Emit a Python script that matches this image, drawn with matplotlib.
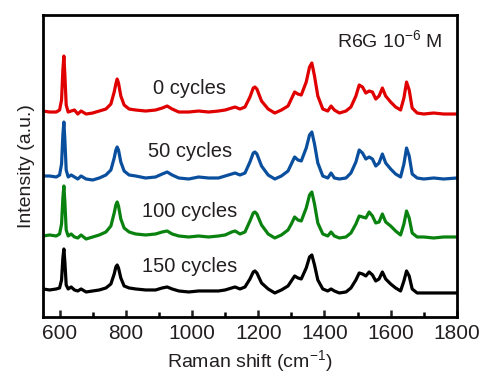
import matplotlib
matplotlib.use("Agg")
import matplotlib.pyplot as plt
from matplotlib.ticker import MultipleLocator
import numpy as np

plt.rcParams['font.family'] = ['Liberation Sans', 'DejaVu Sans']
plt.rcParams['mathtext.fontset'] = 'custom'
plt.rcParams['mathtext.rm'] = 'Liberation Sans'
plt.rcParams['mathtext.it'] = 'Liberation Sans:italic'

# Raman shift (cm^-1)
shift = [550, 570, 590, 600, 606, 610, 613, 616, 620, 626, 635, 645, 655, 665, 680, 700,
         720, 740, 755, 765, 770, 774, 778, 785, 795, 810, 830, 860, 890, 910, 925, 940,
         960, 990, 1020, 1050, 1080, 1100, 1120, 1130, 1145, 1160, 1175, 1185, 1190, 1196,
         1210, 1230, 1250, 1270, 1290, 1300, 1310, 1320, 1330, 1345, 1355, 1362, 1370, 1380,
         1395, 1410, 1420, 1430, 1445, 1465, 1480, 1495, 1505, 1515, 1525, 1535, 1545, 1555,
         1565, 1575, 1585, 1600, 1615, 1630, 1640, 1648, 1656, 1665, 1680, 1700, 1730, 1760, 1800]

cycles_0 = [3, 2, 2, 4, 14, 44, 58, 39, 9, 2, 3, 4, 0, 3, 0, 1,
            3, 5, 10, 22, 30, 35, 31, 18, 9, 5, 4, 3, 4, 6, 8, 5,
            2, 2, 3, 2, 3, 4, 6, 7, 5, 7, 17, 26, 27, 25,
            13, 5, 1, 4, 8, 15, 22, 20, 19, 32, 47, 51, 38, 18,
            5, 3, 8, 4, 1, 3, 7, 18, 29, 27, 21, 23, 22, 15,
            18, 26, 18, 12, 7, 4, 16, 32, 24, 6, 1, 0, 1, 0, 0]

cycles_50 = [4, 4, 3, 5, 16, 45, 58, 40, 10, 3, 5, 3, 1, 4, 1, 0,
             2, 5, 10, 22, 30, 33, 30, 18, 9, 5, 4, 2, 3, 6, 8, 5,
             2, 1, 3, 2, 2, 4, 6, 7, 5, 7, 18, 27, 28, 26,
             14, 5, 1, 4, 9, 16, 23, 20, 19, 32, 45, 48, 36, 17,
             4, 2, 7, 2, 1, 2, 7, 18, 30, 27, 21, 23, 21, 14,
             17, 26, 17, 11, 6, 3, 16, 32, 24, 6, 2, 1, 2, 1, 2]

cycles_100 = [2, 3, 2, 4, 14, 40, 52, 36, 8, 2, 4, 1, 0, 3, -1, 1,
              3, 6, 12, 25, 33, 36, 32, 19, 10, 6, 4, 3, 4, 6, 7, 4,
              2, 1, 2, 1, 2, 3, 6, 7, 4, 6, 17, 25, 26, 24,
              13, 4, 0, 3, 8, 14, 21, 18, 17, 30, 43, 46, 34, 15,
              4, 2, 6, 2, 0, 1, 5, 14, 22, 21, 20, 26, 22, 15,
              16, 24, 16, 12, 7, 3, 14, 27, 20, 5, 1, 1, 0, 1, 1]

cycles_150 = [3, 2, 3, 4, 12, 34, 43, 30, 7, 3, 5, 2, 1, 3, 0, 1,
              2, 4, 8, 18, 25, 27, 24, 14, 6, 4, 3, 2, 2, 4, 5, 3,
              1, 0, 1, 1, 1, 2, 4, 5, 3, 5, 13, 20, 21, 19,
              9, 3, -1, 2, 6, 11, 16, 14, 13, 24, 35, 37, 27, 12,
              3, 1, 3, 1, -1, 0, 4, 12, 19, 18, 16, 20, 17, 11,
              13, 20, 13, 8, 4, 1, 11, 21, 16, 3, -1, -1, -1, -1, -1]

labels = ['0 cycles', '50 cycles', '100 cycles', '150 cycles']
colors = ['#e00000', '#0a4f9e', '#0a820f', '#000000']
offsets = [203, 137, 79, 25]
label_y = [229, 166, 105, 50]

fig = plt.figure(figsize=(4.79, 3.76), dpi=100)
ax = fig.add_axes([0.0898, 0.157, 0.864, 0.803])

for ys, lab, c, off, ly in zip([cycles_0, cycles_50, cycles_100, cycles_150],
                               labels, colors, offsets, label_y):
    ax.plot(shift, np.array(ys) + off, color=c, lw=2.3, solid_joinstyle='round')
    ax.text(993, ly, lab, ha='center', va='center', fontsize=14.5, color='#231f20')

ax.text(1757, 277, r'R6G 10$^{-6}$ M', ha='right', va='center', fontsize=14, color='#231f20')

ax.set_xlim(550, 1800)
ax.set_ylim(0, 302)
ax.xaxis.set_major_locator(MultipleLocator(200))
ax.xaxis.set_minor_locator(MultipleLocator(100))
ax.set_yticks([])
ax.tick_params(axis='x', which='major', direction='in', length=5, width=1.8, labelsize=15,
               pad=5, colors='#231f20', labelcolor='#231f20')
ax.tick_params(axis='x', which='minor', direction='in', length=3.5, width=1.8)
for s in ax.spines.values():
    s.set_linewidth(2.0)
ax.set_xlabel(r'Raman shift (cm$^{-1}$)', fontsize=14, color='#231f20', labelpad=4)
ax.set_ylabel('Intensity (a.u.)', fontsize=14, color='#231f20', labelpad=6)

fig.savefig('out.png', dpi=100)
